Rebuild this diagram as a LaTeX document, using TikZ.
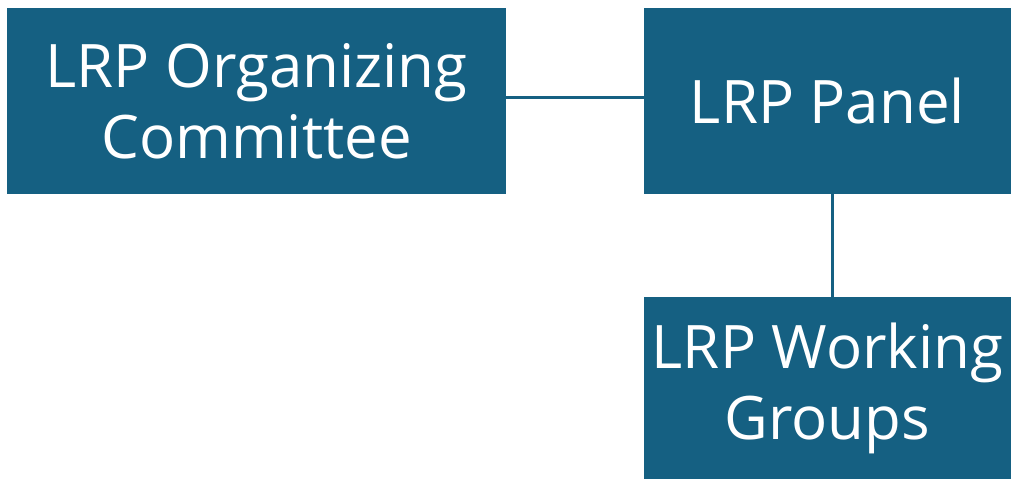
\documentclass[tikz,border=0pt]{standalone}
\usepackage{fontspec}
\setmainfont{Open Sans}
\definecolor{boxblue}{HTML}{156082}
\begin{document}
\begin{tikzpicture}[x=1pt,y=-1pt,
  orgbox/.style={fill=boxblue, draw=none, text=white, align=center, inner sep=0pt,
    font=\fontsize{60}{71}\selectfont},
  link/.style={draw=boxblue, line width=3pt}]
\useasboundingbox (0,0) rectangle (1011,479);
\node[orgbox, minimum width=499pt, minimum height=186pt] (oc) at (256.5,101) {LRP Organizing\\Committee};
\node[orgbox, minimum width=367pt, minimum height=186pt] (panel) at (827.5,101) {LRP Panel};
\node[orgbox, minimum width=367pt, minimum height=182pt] (wg) at (827.5,388) {LRP Working\\Groups};
\draw[link] ([yshift=4pt]oc.east) -- ([yshift=4pt]panel.west);
\draw[link] ([xshift=4.5pt]panel.south) -- ([xshift=4.5pt]wg.north);
\end{tikzpicture}
\end{document}
